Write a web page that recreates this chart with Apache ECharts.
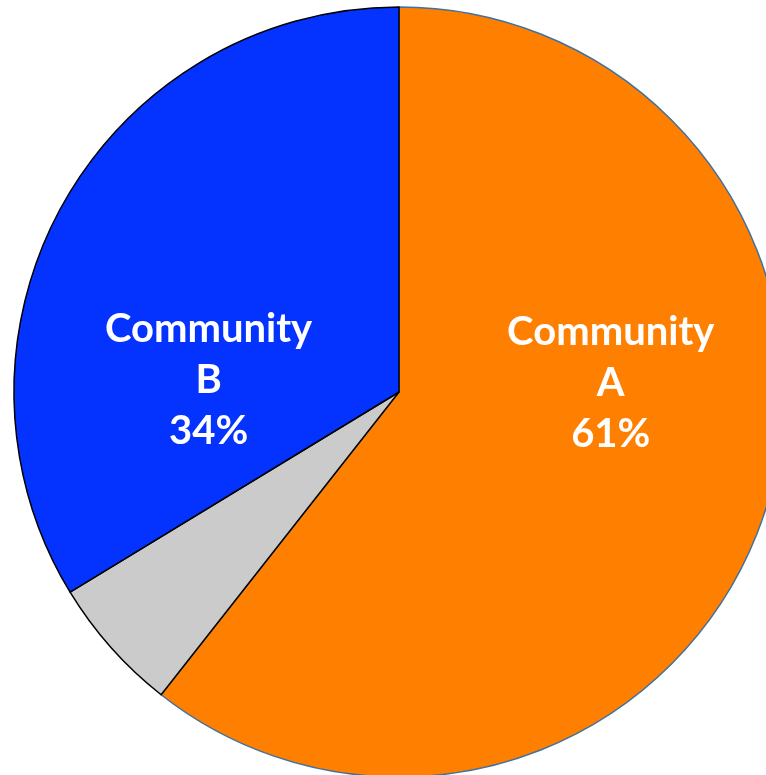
<!DOCTYPE html>
<html>
<head>
<meta charset="utf-8">
<script src="https://cdn.jsdelivr.net/npm/echarts@6/dist/echarts.min.js"></script>
<style>
html,body{margin:0;padding:0;background:#fff;}
#chart{width:766px;height:775px;}
</style>
</head>
<body>
<div id="chart"></div>
<script>
const categories = ['Community\nA', 'Other', 'Community\nB'];
const values = [60.6, 5.7, 33.7];
const showLabel = [true, false, true];

const colors = ['#FF7F00', '#CBCBCB', '#0433FF'];
const borders = ['#41719C', '#000000', '#000000'];
const offsets = [[27, -73], [0, 0], [-20, 84]];

const chart = echarts.init(document.getElementById('chart'));
chart.setOption({
  animation: false,
  series: [{
    type: 'pie',
    center: [399, 392],
    radius: 385,
    startAngle: 90,
    clockwise: true,
    avoidLabelOverlap: false,
    labelLine: { show: false },
    label: {
      position: 'inside',
      color: '#fff',
      fontFamily: 'Lato',
      fontWeight: 'bold',
      fontSize: 40,
      lineHeight: 51,
      align: 'center',
      formatter: p => p.name + '\n' + Math.round(p.value) + '%'
    },
    emphasis: { disabled: true },
    data: categories.map((c, i) => ({
      name: c,
      value: values[i],
      itemStyle: { color: colors[i], borderColor: borders[i], borderWidth: 1.5 },
      label: { show: showLabel[i], offset: offsets[i] }
    }))
  }]
});
</script>
</body>
</html>
